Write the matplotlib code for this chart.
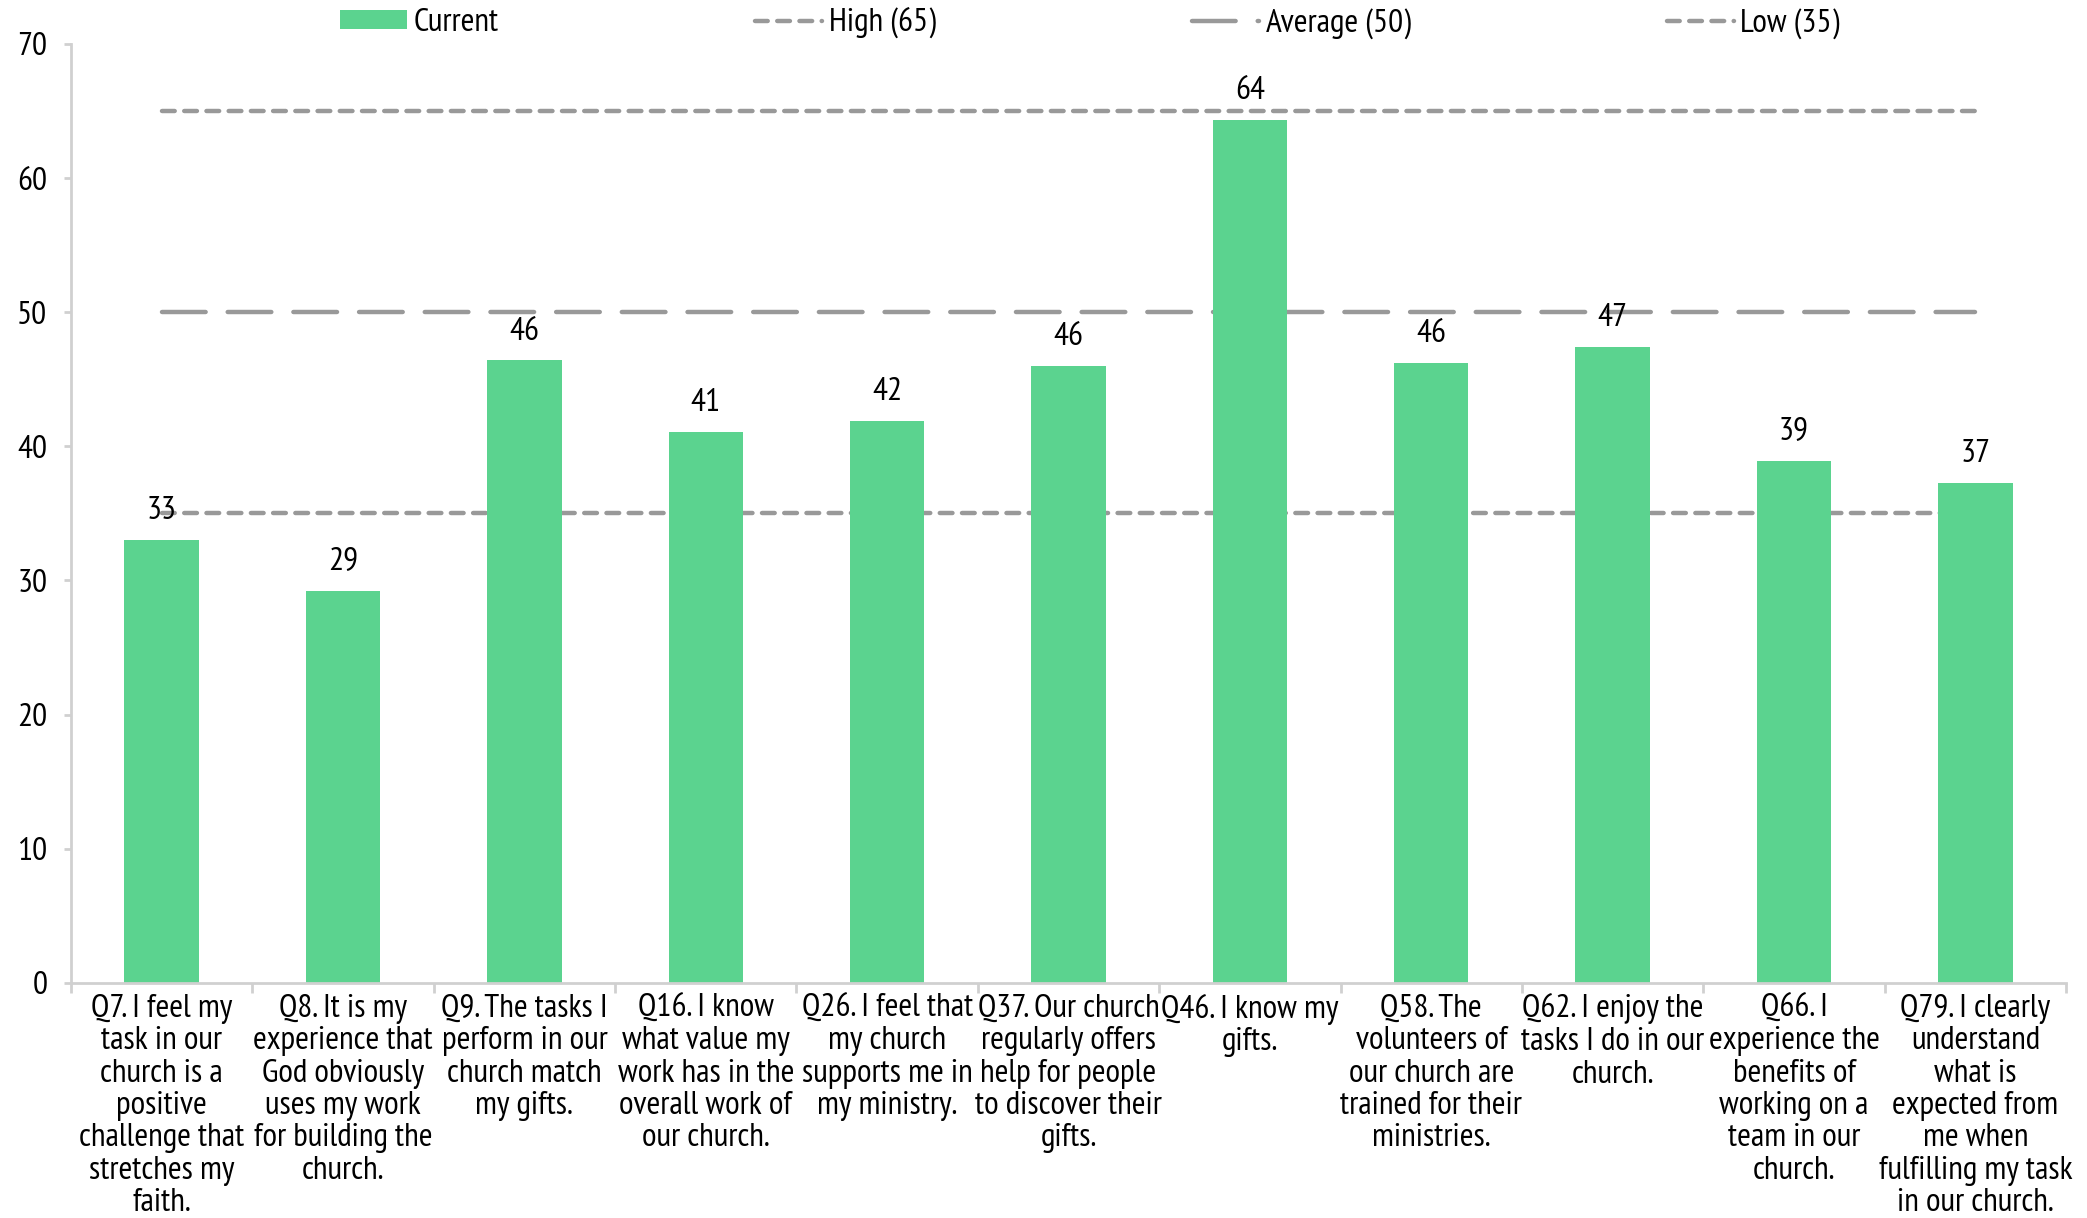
import matplotlib
matplotlib.use("Agg")
import matplotlib.pyplot as plt
from matplotlib.lines import Line2D
from matplotlib.patches import Patch
import numpy as np

plt.rcParams['font.family'] = ['PT Sans Narrow', 'DejaVu Sans']

# data
questions = [
    "Q7. I feel my\ntask in our\nchurch is a\npositive\nchallenge that\nstretches my\nfaith.",
    "Q8. It is my\nexperience that\nGod obviously\nuses my work\nfor building the\nchurch.",
    "Q9. The tasks I\nperform in our\nchurch match\nmy gifts.",
    "Q16. I know\nwhat value my\nwork has in the\noverall work of\nour church.",
    "Q26. I feel that\nmy church\nsupports me in\nmy ministry.",
    "Q37. Our church\nregularly offers\nhelp for people\nto discover their\ngifts.",
    "Q46. I know my\ngifts.",
    "Q58. The\nvolunteers of\nour church are\ntrained for their\nministries.",
    "Q62. I enjoy the\ntasks I do in our\nchurch.",
    "Q66. I\nexperience the\nbenefits of\nworking on a\nteam in our\nchurch.",
    "Q79. I clearly\nunderstand\nwhat is\nexpected from\nme when\nfulfilling my task\nin our church.",
]
current = [33.0, 29.2, 46.4, 41.1, 41.9, 46.0, 64.3, 46.2, 47.4, 38.9, 37.3]
high = 65
average = 50
low = 35

green = "#5BD38F"
grey = "#999999"
fs = 24

fig = plt.figure(figsize=(20.87, 12.18), dpi=100)
ax = fig.add_axes([0.034, 0.193, 0.956, 0.771])

x = np.arange(len(current))
bars = ax.bar(x, current, width=0.41, color=green, zorder=2)

lw = 3.2
short = (2.86, 2.14)
long_ = (9.82, 4.96)
ax.plot([x[0], x[-1]], [high, high], color=grey, lw=lw, dash_capstyle='round',
        dashes=short, zorder=1)
ax.plot([x[0], x[-1]], [average, average], color=grey, lw=lw, dash_capstyle='round',
        dashes=long_, zorder=1)
ax.plot([x[0], x[-1]], [low, low], color=grey, lw=lw, dash_capstyle='round',
        dashes=short, zorder=1)

for xi, v in zip(x, current):
    ax.annotate("%.0f" % v, (xi, v), xytext=(0, 10), textcoords="offset points",
                ha="center", va="bottom", fontsize=fs, zorder=3)

ax.set_xlim(-0.5, len(current) - 0.5)
ax.set_ylim(0, 70)
ax.set_yticks(range(0, 71, 10))
ax.tick_params(axis='y', labelsize=fs, length=5, width=2, color="#D0D0D0", pad=12)

ax.set_xticks(np.arange(len(current) + 1) - 0.5)
ax.set_xticklabels([])
ax.set_xticks(x, minor=True)
ax.set_xticklabels(questions, minor=True, fontsize=fs, linespacing=1.1, va="top")
ax.tick_params(axis='x', which='major', length=7, width=2, color="#D0D0D0")
ax.tick_params(axis='x', which='minor', length=0, pad=8)

for s in ["top", "right"]:
    ax.spines[s].set_visible(False)
for s in ["left", "bottom"]:
    ax.spines[s].set_color("#D0D0D0")
    ax.spines[s].set_linewidth(2)

handles = [
    Patch(facecolor=green, edgecolor="none", label="Current"),
    Line2D([], [], color=grey, lw=lw, dash_capstyle='round', dashes=short, label="High (65)"),
    Line2D([], [], color=grey, lw=lw, dash_capstyle='round', dashes=long_, label="Average (50)"),
    Line2D([], [], color=grey, lw=lw, dash_capstyle='round', dashes=short, label="Low (35)"),
]
fig.legend(handles=handles, loc="center left", bbox_to_anchor=(0.163, 0.981), ncol=4,
           frameon=False, fontsize=fs, handlelength=2.0, handleheight=0.5,
           handletextpad=0.2, columnspacing=7.7, borderpad=0, borderaxespad=0)

fig.savefig("out.png", dpi=100)
